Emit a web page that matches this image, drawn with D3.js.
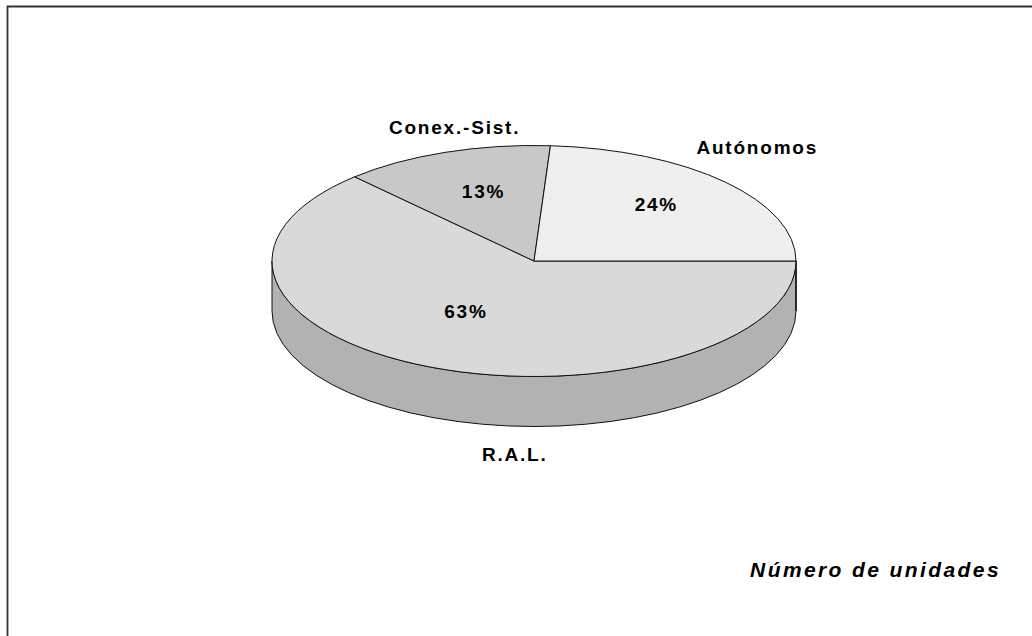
<!DOCTYPE html>
<html>
<head>
<meta charset="utf-8">
<script src="https://cdn.jsdelivr.net/npm/d3@7"></script>
<style>
  body { margin: 0; background: #fff; }
  text { font-family: "Liberation Sans", Arial, sans-serif; font-weight: bold; fill: #000; }
</style>
</head>
<body>
<div class="mainDiv"></div>
<script>
// data, in the order excel draws it (clockwise from 3 o'clock)
const categories = ["R.A.L.", "Conex.-Sist.", "Autónomos"];
const values = [63, 13, 24];
const topColors = ["#d9d9d9", "#c8c8c8", "#efefef"];
const title = "Número de unidades";

const width = 1032, height = 636;
const cx = 534, cy = 261, rx = 262, ry = 115.5, depth = 50;

const svg = d3.select('.mainDiv').append('svg')
  .attr('width', width).attr('height', height);

// chart area border (only top and left show)
svg.append('path')
  .attr('d', `M7.5,${height} V6.5 H${width}`)
  .attr('fill', 'none')
  .attr('stroke', '#333')
  .attr('stroke-width', 1.8);

const pie = d3.pie().sort(null)
  .startAngle(Math.PI / 2)
  .endAngle(Math.PI / 2 + 2 * Math.PI);
const arcs = pie(values);
const total = d3.sum(values);

// point on the ellipse for a d3 angle (clockwise from 12 o'clock)
const pt = (a, dy = 0) => [cx + rx * Math.sin(a), cy - ry * Math.cos(a) + dy];

function topPath(d) {
  const p0 = pt(d.startAngle), p1 = pt(d.endAngle);
  const large = d.endAngle - d.startAngle > Math.PI ? 1 : 0;
  return `M${cx},${cy} L${p0} A${rx},${ry} 0 ${large} 1 ${p1} Z`;
}

// front wall: only the part between 3 and 9 o'clock is visible
function sidePath(d) {
  const lo = Math.PI / 2, hi = 3 * Math.PI / 2;
  let pieces = [];
  for (const shift of [0, 2 * Math.PI]) {
    const a = Math.max(d.startAngle, lo + shift), b = Math.min(d.endAngle, hi + shift);
    if (b > a) pieces.push([a, b]);
  }
  return pieces.map(([a, b]) => {
    const t0 = pt(a), t1 = pt(b), b1 = pt(b, depth), b0 = pt(a, depth);
    return `M${t0} A${rx},${ry} 0 0 1 ${t1} L${b1} A${rx},${ry} 0 0 0 ${b0} Z`;
  }).join(' ');
}

const g = svg.append('g');

g.selectAll('path.side')
  .data(arcs)
  .join('path')
  .attr('class', 'side')
  .attr('d', sidePath)
  .attr('fill', (d, i) => d3.color(topColors[i]).darker(0.55))
  .attr('stroke', '#111')
  .attr('stroke-width', 1);

g.selectAll('path.top')
  .data(arcs)
  .join('path')
  .attr('class', 'top')
  .attr('d', topPath)
  .attr('fill', (d, i) => topColors[i])
  .attr('stroke', '#111')
  .attr('stroke-width', 1);

const mid = d => (d.startAngle + d.endAngle) / 2;

// percentage labels inside the slices (small hand moves like the original)
const pctNudge = [[-3, 0], [5, 0], [3, -4]];
g.selectAll('text.pct')
  .data(arcs)
  .join('text')
  .attr('class', 'pct')
  .attr('x', (d, i) => cx + 0.625 * rx * Math.sin(mid(d)) + pctNudge[i][0])
  .attr('y', (d, i) => cy - 9 - 0.56 * ry * Math.cos(mid(d)) + pctNudge[i][1])
  .attr('dy', '0.36em')
  .attr('text-anchor', 'middle')
  .attr('font-size', 19)
  .attr('letter-spacing', 1.8)
  .text(d => d3.format('.0%')(d.value / total));

// category labels outside, moved by hand like in the original
const nudge = [[116, 5], [36, 7], [-25, -11]];
g.selectAll('text.cat')
  .data(arcs)
  .join('text')
  .attr('class', 'cat')
  .attr('x', (d, i) => cx + 1.3 * rx * Math.sin(mid(d)) + nudge[i][0])
  .attr('y', (d, i) => {
    const c = Math.cos(mid(d));
    return cy - 1.3 * ry * c + (c < 0 ? depth : 0) + nudge[i][1];
  })
  .attr('dy', '0.36em')
  .attr('text-anchor', 'middle')
  .attr('font-size', 19)
  .attr('letter-spacing', 1.8)
  .text((d, i) => categories[i]);

svg.append('text')
  .attr('x', 1001)
  .attr('y', 577)
  .attr('text-anchor', 'end')
  .attr('font-size', 21)
  .attr('font-style', 'italic')
  .attr('letter-spacing', 2.4)
  .text(title);
</script>
</body>
</html>
